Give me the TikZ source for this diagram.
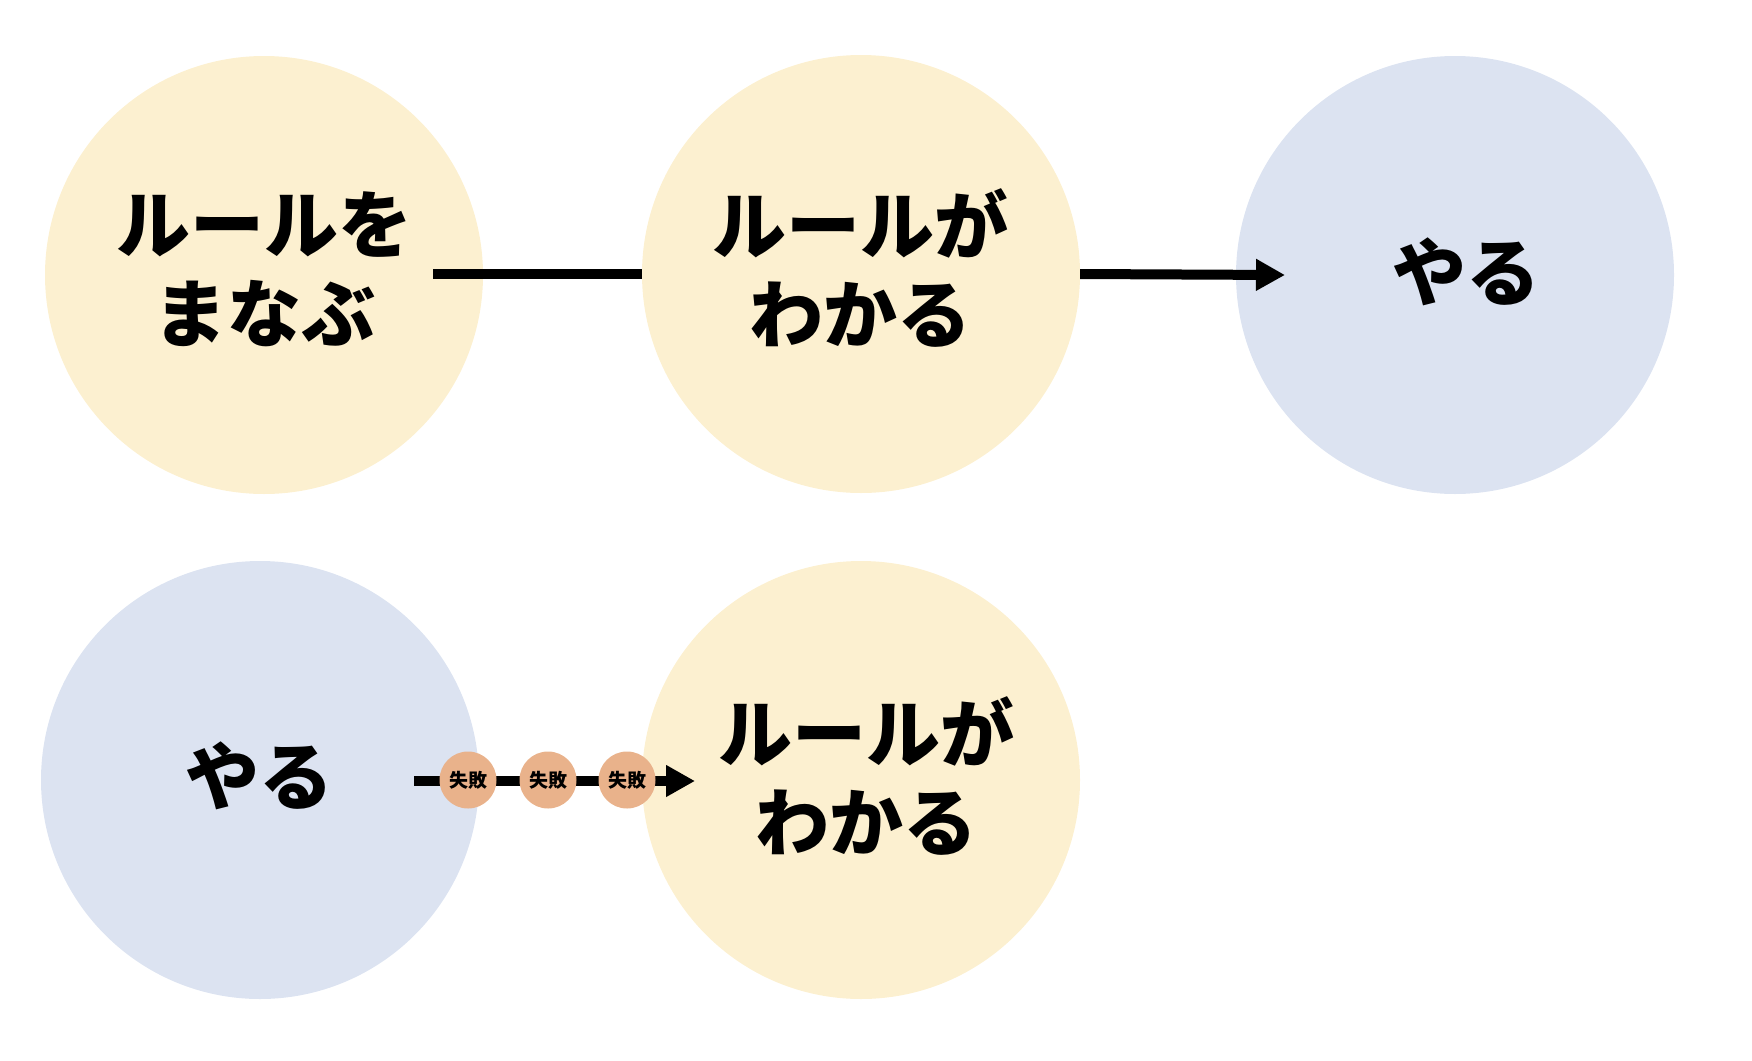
\documentclass[tikz,border=0pt]{standalone}
\usepackage{fontspec}
\setmainfont{Noto Sans CJK JP}
\usetikzlibrary{arrows.meta}
\definecolor{cyel}{HTML}{FCF0D0}
\definecolor{cblu}{HTML}{DCE3F1}
\definecolor{corg}{HTML}{E9B28B}
\tikzset{
  big/.style={circle, minimum size=438pt, inner sep=0pt, draw=none, align=center,
    font=\bfseries\fontsize{74}{89}\selectfont},
  yel/.style={big, fill=cyel},
  blu/.style={big, fill=cblu},
  fail/.style={circle, minimum size=57pt, inner sep=0pt, fill=corg,
    font=\bfseries\fontsize{19}{20}\selectfont},
  conn/.style={line width=10pt, black},
  arr/.style={conn, -{Triangle[length=29pt,width=30pt]}}
}
\begin{document}
\begin{tikzpicture}[x=1pt,y=-1pt]
\useasboundingbox (0,0) rectangle (1752,1060);
\node[yel] (c1) at (264,275) {};
\node[yel] (c2) at (861,274) {};
\node[blu] (c3) at (1455,275) {};
\node[blu] (c4) at (260,780) {};
\node[yel] (c5) at (861,780) {};
\node[font=\bfseries\fontsize{74}{89}\selectfont, align=center] (t1) at (264,269) {ルールを\\まなぶ};
\node[font=\bfseries\fontsize{74}{89}\selectfont, align=center] (t2) at (860,268) {ルールが\\わかる};
\node[font=\bfseries\fontsize{74}{89}\selectfont] (t3) at (1466,272) {やる};
\node[font=\bfseries\fontsize{74}{89}\selectfont] (t4) at (259,776) {やる};
\node[font=\bfseries\fontsize{74}{89}\selectfont, align=center] (t5) at (866,776) {ルールが\\わかる};
\coordinate (s1) at (433,274);
\draw[conn] (s1) -- (c2);
\coordinate (e1) at (1285,275);
\draw[arr] (c2.east) -- (e1);
\coordinate (s2) at (414,781);
\coordinate (e2) at (695,781);
\draw[arr] (s2) -- (e2);
\node[fail] (f1) at (468,780) {失敗};
\node[fail] (f2) at (548,780) {失敗};
\node[fail] (f3) at (627,780) {失敗};
\end{tikzpicture}
\end{document}
